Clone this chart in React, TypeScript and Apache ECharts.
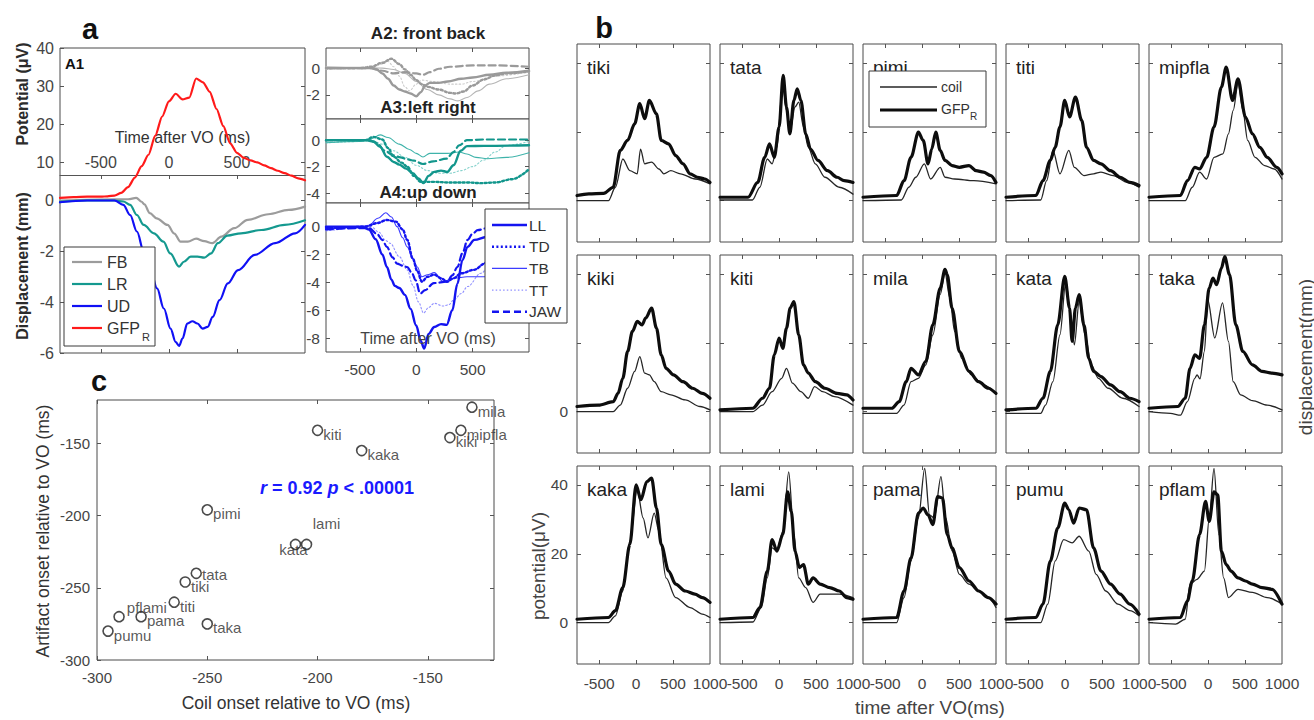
import React, { useEffect, useRef } from 'react';
import * as echarts from 'echarts';

type P = [number, number][];

// ---------------- Panel a : A1 (time ms, value) ----------------
const A1_TIME_TICKS = [-500, 0, 500];
const A1_POT_TICKS = [10, 20, 30, 40];
const A1_DISP_TICKS = [0, -2, -4, -6];
const A1_GFP: P = [[-800,0.7],[-700,0.9],[-600,1.0],[-500,1.0],[-450,1.1],[-400,1.3],[-350,2.0],[-300,3.5],[-250,6.0],[-200,9.0],[-150,12.0],[-100,17.0],[-50,22.0],[0,26.0],[50,28.0],[100,26.5],[150,27.0],[200,32.0],[250,31.0],[300,28.5],[350,24.0],[400,19.5],[450,15.0],[500,12.5],[550,11.2],[600,10.5],[650,10.0],[700,9.2],[750,8.5],[800,7.8],[850,7.2],[900,6.5],[950,5.8],[1000,5.3]];
const A1_FB: P = [[-800,0],[-400,0.05],[-300,0.05],[-240,0.1],[-200,-0.05],[-180,-0.15],[-140,-0.5],[-90,-0.7],[-10,-0.96],[40,-1.3],[85,-1.62],[140,-1.62],[200,-1.5],[260,-1.6],[320,-1.68],[385,-1.42],[480,-1.09],[580,-0.76],[730,-0.54],[880,-0.37],[1000,-0.24]];
const A1_LR: P = [[-800,-0.05],[-600,0],[-400,0],[-335,-0.04],[-285,-0.17],[-235,-0.57],[-185,-0.96],[-110,-1.29],[-40,-1.62],[10,-2.08],[75,-2.6],[110,-2.41],[160,-2.21],[210,-2.21],[260,-2.25],[310,-2.08],[360,-1.68],[430,-1.38],[530,-1.29],[680,-1.16],[850,-0.96],[1000,-0.78]];
const A1_UD: P = [[-800,-0.07],[-600,0],[-400,0],[-335,-0.17],[-285,-0.57],[-235,-1.22],[-185,-2.0],[-135,-2.74],[-87,-3.46],[-37,-4.25],[12,-5.04],[50,-5.57],[75,-5.72],[100,-5.43],[135,-4.84],[173,-4.75],[210,-4.84],[248,-5.04],[285,-4.97],[322,-4.58],[372,-3.92],[433,-3.26],[508,-2.74],[631,-2.14],[780,-1.68],[928,-1.29],[1000,-0.96]];

// ---------------- Panel a : A2 front back ----------------
const A2_TICKS = [0, -2];
const A2_LL: P = [[-800,0],[-400,0],[-350,-0.1],[-300,-0.4],[-250,-0.8],[-200,-1.3],[-150,-1.6],[-100,-1.75],[-50,-1.9],[0,-2.1],[40,-1.8],[80,-1.3],[120,-1.1],[200,-1.1],[280,-1.0],[400,-0.8],[500,-0.7],[650,-0.5],[800,-0.35],[1000,-0.2]];
const A2_TD: P = [[-800,0],[-500,0],[-400,0.1],[-300,0.4],[-220,0.7],[-150,0.3],[-100,-0.1],[-50,-0.5],[0,-0.9],[50,-1.2],[100,-1.4],[200,-1.6],[300,-1.85],[350,-1.9],[420,-1.75],[500,-1.3],[600,-0.85],[700,-0.55],[800,-0.4],[1000,-0.25]];
const A2_TB: P = [[-800,0.1],[-500,0.05],[-300,0],[-200,-0.1],[-100,-0.4],[0,-1.0],[100,-1.6],[200,-2.0],[300,-2.3],[370,-2.45],[450,-2.2],[550,-1.7],[650,-1.2],[800,-0.8],[1000,-0.5]];
const A2_TT: P = [[-800,-0.1],[-400,0],[-300,0.3],[-250,0.5],[-200,0.1],[-150,-0.6],[-100,-1.4],[-60,-1.7],[0,-1.2],[50,-0.9],[150,-1.0],[300,-1.2],[400,-1.2],[500,-1.0],[700,-0.6],[1000,-0.3]];
const A2_JAW: P = [[-800,0],[-400,0],[-300,-0.2],[-200,-0.4],[-100,-0.3],[0,-0.4],[60,-0.5],[120,-0.3],[200,-0.05],[300,0.1],[500,0.2],[700,0.2],[1000,0.1]];

// ---------------- Panel a : A3 left right ----------------
const A3_TICKS = [0, -2, -4];
const A3_LL: P = [[-800,0],[-450,0],[-380,-0.1],[-320,-0.5],[-260,-1.25],[-200,-1.65],[-150,-1.85],[-90,-2.15],[-30,-2.5],[20,-2.9],[65,-3.25],[110,-2.7],[160,-2.4],[220,-2.3],[275,-2.4],[330,-1.9],[395,-0.8],[450,-0.45],[600,-0.43],[1000,-0.38]];
const A3_TD: P = [[-800,0],[-450,0],[-380,0.25],[-300,0.05],[-250,-0.6],[-200,-1.25],[-130,-1.7],[-80,-2.0],[-20,-2.7],[40,-3.15],[150,-3.15],[300,-3.2],[450,-3.2],[575,-3.25],[700,-3.2],[850,-2.95],[1000,-2.2]];
const A3_TB: P = [[-800,-0.2],[-500,-0.1],[-400,0.1],[-320,0.4],[-250,0.2],[-150,-0.3],[-60,-0.7],[0,-1.0],[60,-1.27],[120,-1.0],[200,-1.0],[280,-1.0],[380,-0.9],[450,-1.05],[530,-1.3],[630,-1.4],[800,-1.3],[1000,-0.95]];
const A3_TT: P = [[-800,-0.2],[-500,-0.1],[-400,0],[-300,-0.3],[-200,-0.8],[-100,-1.3],[0,-1.9],[100,-2.3],[200,-2.5],[300,-2.5],[400,-2.3],[500,-2.0],[600,-1.5],[700,-0.9],[800,-0.4],[1000,-0.1]];
const A3_JAW: P = [[-800,0],[-420,0],[-350,-0.2],[-280,-0.8],[-200,-1.15],[-140,-1.3],[-80,-1.45],[-20,-1.55],[60,-1.8],[150,-1.6],[270,-1.4],[330,-0.9],[380,-0.4],[450,0],[600,0.05],[1000,0.05]];

// ---------------- Panel a : A4 up down ----------------
const A4_TICKS = [0, -2, -4, -6, -8];
const A4_LL: P = [[-800,0],[-480,0],[-420,-0.2],[-360,-0.9],[-300,-2.0],[-260,-2.9],[-220,-3.8],[-190,-4.25],[-150,-4.4],[-100,-4.9],[-50,-5.9],[0,-7.1],[40,-8.2],[70,-8.75],[110,-7.7],[160,-7.2],[220,-7.0],[270,-7.05],[320,-6.0],[365,-4.1],[410,-2.4],[455,-1.45],[515,-0.95],[630,-0.72],[750,-0.6],[1000,-0.48]];
const A4_TD: P = [[-800,-0.1],[-600,-0.05],[-450,0],[-350,0.25],[-260,0.48],[-180,0.36],[-120,-0.2],[-80,-0.95],[-30,-2.3],[10,-3.2],[50,-3.95],[100,-3.6],[160,-3.45],[220,-3.7],[275,-3.95],[330,-3.7],[400,-3.35],[510,-3.1],[620,-2.6],[750,-2.0],[1000,-1.3]];
const A4_TB: P = [[-800,-0.2],[-500,0],[-420,0.1],[-340,0.6],[-270,1.0],[-220,0.7],[-170,0],[-120,-0.8],[-80,-1.45],[-30,-2.3],[10,-2.9],[50,-3.6],[100,-3.45],[160,-3.3],[240,-3.95],[300,-3.8],[340,-3.7],[450,-3.6],[620,-3.6],[1000,-3.6]];
const A4_TT: P = [[-800,-0.3],[-500,-0.1],[-400,0],[-330,-0.4],[-270,-1.0],[-230,-1.2],[-150,-2.15],[-80,-3.1],[-30,-4.2],[20,-5.4],[65,-6.2],[110,-5.8],[160,-5.5],[240,-5.7],[290,-5.6],[335,-5.25],[400,-4.8],[455,-4.3],[575,-3.34],[700,-2.0],[850,-1.3],[1000,-0.9]];
const A4_JAW: P = [[-800,-0.2],[-500,-0.1],[-420,-0.1],[-350,-0.5],[-300,-0.95],[-260,-1.45],[-210,-2.2],[-170,-2.65],[-120,-2.8],[-80,-2.9],[-40,-3.3],[-5,-3.85],[35,-4.8],[80,-4.55],[155,-4.05],[275,-3.95],[320,-3.5],[365,-2.9],[410,-1.9],[455,-0.95],[500,-0.5],[545,-0.25],[620,-0.12],[1000,-0.1]];

// ---------------- Panel c ----------------
const C_WORDS = ['mila','mipfla','kiki','kiti','kaka','pimi','kata','lami','tata','tiki','titi','pflami','pama','pumu','taka'];
const C_COIL = [-130,-135,-140,-200,-180,-250,-210,-205,-255,-260,-265,-290,-280,-295,-250];
const C_ARTIFACT = [-125,-141,-146,-141,-155,-196,-220,-220,-240,-246,-260,-270,-270,-280,-275];
const C_TICKS = [-300, -250, -200, -150];

// ---------------- Panel b (time ms, µV) ----------------
const B_X_TICKS = [-500, 0, 500];
const B_X_LABELS = [-500, 0, 500, 1000];
const B_Y_TICKS = [0, 20, 40];
const tikiCoil: P = [[-800,0],[-375,0],[-280,3.9],[-180,12.1],[-85,8.7],[15,7.8],[60,15],[115,10.7],[210,11.2],[310,9.2],[375,7.8],[470,8.7],[600,7.8],[800,6.3],[1000,4.9]];
const tikiGfp: P = [[-800,1.5],[-640,2],[-440,2.1],[-310,3.9],[-215,14.6],[-115,17.5],[-20,22.3],[50,28.2],[115,23.8],[180,29.1],[275,25.2],[340,17.5],[440,16.5],[535,13.1],[635,10.7],[730,7.8],[830,6.8],[930,6.3],[1000,5.3]];
const tataCoil: P = [[-800,0.2],[-360,0.2],[-260,3.9],[-160,12.1],[-95,10.7],[-30,15.5],[50,34],[100,26.2],[150,20.4],[215,27.2],[265,28.6],[330,21.4],[395,15.5],[490,10.7],[620,6.8],[815,3.9],[1000,1.9]];
const tataGfp: P = [[-800,1],[-420,1],[-290,5.3],[-195,12.6],[-130,16.5],[-65,12.6],[0,21.4],[55,36.4],[100,27.2],[145,19.4],[200,29.1],[245,32.5],[295,29.1],[360,19.4],[425,15],[525,11.7],[655,8.7],[785,6.8],[880,5.8],[1000,5.3]];
const pimiCoil: P = [[-800,0],[-280,0.2],[-180,3.9],[-85,6.8],[30,10.7],[115,6.3],[245,9.7],[310,6.8],[440,6.3],[700,5.8],[1000,4.9]];
const pimiGfp: P = [[-800,1],[-345,1.5],[-245,5.8],[-150,12.6],[-50,19.9],[15,17.5],[80,10.7],[130,15],[185,19.9],[245,14.6],[310,11.7],[405,10.2],[505,9.7],[635,10.2],[730,8.7],[830,8.3],[930,7.3],[1000,5.3]];
const titiCoil: P = [[-800,0],[-330,0.2],[-250,5.8],[-165,14.6],[-70,7.8],[50,14.6],[125,9.7],[255,7.3],[385,7.8],[485,8.3],[650,7.3],[845,5.3],[1000,3.9]];
const titiGfp: P = [[-800,1],[-395,1.5],[-300,5.8],[-200,11.7],[-135,15.5],[-70,21.4],[-5,29.1],[60,24.3],[140,30.1],[225,23.3],[290,15.5],[385,11.7],[485,10.7],[615,8.7],[745,6.8],[875,5.3],[1000,4.4]];
const mipflaCoil: P = [[-800,0],[-310,0],[-215,3.9],[-115,8.3],[-20,6.3],[80,12.6],[200,13.6],[275,19.4],[340,26.2],[405,34],[470,26.2],[535,17.5],[635,12.6],[765,10.2],[895,9.2],[1000,6.3]];
const mipflaGfp: P = [[-800,1],[-375,1.5],[-280,5.8],[-180,9.7],[-115,9.2],[-20,12.6],[80,21.4],[180,33],[245,38.8],[330,29.1],[405,35.4],[505,24.3],[600,19.4],[700,15.5],[800,12.6],[930,9.7],[1000,7.8]];
const kikiCoil: P = [[-800,0],[-310,0],[-215,1.9],[-115,6.8],[-20,11.7],[50,16],[115,11.2],[180,10.7],[245,8.7],[340,5.8],[470,4.9],[665,3.4],[865,1.5],[1000,0.5]];
const kikiGfp: P = [[-800,1.5],[-510,1.9],[-310,2.9],[-245,5.3],[-180,9.7],[-115,17.5],[-50,23.3],[15,26.2],[80,25.2],[130,27.2],[210,30.1],[275,24.3],[340,16.5],[405,12.6],[505,10.7],[635,8.7],[765,6.8],[895,5.3],[1000,3.9]];
const kitiCoil: P = [[-800,0],[-355,0],[-225,1.9],[-95,5.8],[35,9.7],[100,12.6],[180,8.3],[295,5.8],[395,3.9],[480,7.3],[590,5.8],[750,4.4],[1000,1.9]];
const kitiGfp: P = [[-800,0.5],[-355,1],[-225,3.9],[-130,6.8],[-65,16.5],[0,21.4],[50,18.4],[100,24.3],[150,30.1],[200,32],[265,22.3],[330,13.6],[395,11.2],[490,8.7],[620,6.8],[785,5.3],[915,4.9],[1000,3.4]];
const milaCoil: P = [[-800,-0.5],[-345,-0.5],[-245,1.9],[-150,8.7],[-50,9.7],[50,13.6],[145,22.3],[245,34],[310,40.3],[375,33],[440,23.3],[535,15.5],[665,10.7],[830,7.8],[1000,5.3]];
const milaGfp: P = [[-800,1],[-410,1],[-310,2.9],[-215,8.7],[-150,12.6],[-50,10.7],[50,14.6],[145,25.2],[245,35.9],[310,41.3],[340,39.8],[405,30.1],[505,17.5],[635,11.7],[765,8.7],[895,6.8],[1000,5.3]];
const kataCoil: P = [[-800,-0.5],[-330,-0.5],[-265,1.9],[-165,8.7],[-70,22.3],[10,37.9],[75,28.2],[125,19.4],[190,32],[270,22.3],[355,13.6],[450,9.7],[585,6.8],[780,3.9],[1000,1.5]];
const kataGfp: P = [[-800,0.5],[-395,1],[-300,3.9],[-200,11.7],[-100,25.2],[-5,39.3],[60,30.1],[95,20.4],[140,30.1],[190,34],[255,25.2],[320,15.5],[385,11.7],[485,10.2],[615,7.8],[745,5.8],[875,3.9],[1000,2.9]];
const takaCoil: P = [[-800,0],[-510,-0.5],[-375,-1],[-280,2.9],[-180,9.7],[-150,10.7],[-110,9.5],[-50,17.5],[-5,32.5],[90,21.4],[195,31.6],[275,20.4],[340,8.7],[440,4.9],[600,3.2],[800,1.9],[1000,0.5]];
const takaGfp: P = [[-800,1],[-410,1.5],[-310,3.9],[-245,12.6],[-180,16.5],[-115,15.5],[-50,25.2],[15,35.9],[65,38.8],[115,36.9],[180,41.7],[225,45],[290,39.8],[375,25.2],[470,17.5],[600,13.6],[730,11.7],[865,11.2],[1000,10.7]];
const kakaCoil: P = [[-800,0],[-375,0],[-280,2],[-180,9.2],[-85,23.7],[15,38.6],[95,30.4],[160,24.6],[245,31.8],[310,26.5],[405,13],[535,7.3],[730,4.4],[895,2.5],[1000,1.5]];
const kakaGfp: P = [[-800,1],[-375,1.5],[-280,3.5],[-180,10.2],[-85,22.7],[0,40],[65,35.7],[145,41],[210,42],[275,33.3],[340,22.7],[440,15],[535,11.2],[665,9.2],[795,8.3],[895,7.3],[1000,5.9]];
const lamiCoil: P = [[-800,0],[-355,0.2],[-240,4.4],[-160,13],[-95,21.7],[-30,20.8],[50,26.5],[130,43.8],[200,25.6],[265,13],[360,10.2],[460,5.9],[555,8.3],[685,8.3],[815,8.3],[1000,7.3]];
const lamiGfp: P = [[-800,1],[-355,1.5],[-260,4.4],[-160,15],[-95,24.1],[-30,20.8],[50,25.6],[115,38],[165,32.3],[215,20.8],[275,16],[330,16.9],[395,11.2],[460,13],[555,11.2],[685,10.2],[815,9.2],[915,7.3],[1000,6.8]];
const pamaCoil: P = [[-800,0],[-345,0],[-245,7.3],[-150,17.9],[-50,30.4],[35,44.8],[100,31.3],[165,30.4],[255,42.4],[320,30.4],[405,20.8],[505,14],[635,11.2],[765,9.2],[895,7.3],[1000,4.4]];
const pamaGfp: P = [[-800,1],[-345,1.5],[-245,9.2],[-150,18.8],[-50,31.8],[15,33.3],[80,31.3],[145,28.5],[210,36.6],[275,36.2],[340,25.6],[405,21.7],[505,16],[635,12.1],[765,9.2],[895,7.3],[1000,5.4]];
const pumuCoil: P = [[-800,0],[-330,0],[-235,5.4],[-135,17.9],[-20,24.1],[95,23.2],[190,25.1],[320,20.8],[420,14],[550,9.2],[715,5.4],[875,3.5],[1000,2]];
const pumuGfp: P = [[-800,1],[-395,1.5],[-300,5.4],[-200,17.9],[-100,27.5],[-5,34.7],[50,32.8],[115,28.9],[190,33.3],[290,32.8],[385,21.7],[485,15],[615,11.2],[745,8.3],[875,5.4],[1000,2.5]];
const pflamCoil: P = [[-800,0],[-440,-0.4],[-310,1],[-245,11.2],[-150,12.6],[-50,15],[15,30.4],[80,44.8],[145,25.6],[210,13],[275,7.3],[405,9.7],[600,8.8],[800,7.3],[1000,5.4]];
const pflamGfp: P = [[-800,1],[-375,1.5],[-280,6.3],[-215,12.1],[-115,25.6],[-35,35.2],[15,29.4],[80,38],[130,37.1],[180,20.8],[245,16.9],[310,15],[405,13],[505,12.1],[600,11.2],[730,10.2],[865,9.7],[1000,5.4]];

const B_WORDS = ['tiki','tata','pimi','titi','mipfla','kiki','kiti','mila','kata','taka','kaka','lami','pama','pumu','pflam'];
const B_COIL: P[] = [tikiCoil,tataCoil,pimiCoil,titiCoil,mipflaCoil,kikiCoil,kitiCoil,milaCoil,kataCoil,takaCoil,kakaCoil,lamiCoil,pamaCoil,pumuCoil,pflamCoil];
const B_GFP: P[] = [tikiGfp,tataGfp,pimiGfp,titiGfp,mipflaGfp,kikiGfp,kitiGfp,milaGfp,kataGfp,takaGfp,kakaGfp,lamiGfp,pamaGfp,pumuGfp,pflamGfp];

// ---------------- styling ----------------
const FONT = "'Liberation Sans', Arial, Helvetica, sans-serif";
const INK = '#2b2b2b';
const AXC = '#444';
const GRAY = { thick: '#9a9a9a', thin: '#b5b5b5', light: '#cdcdcd' };
const TEAL = { thick: '#12968c', thin: '#3fb3aa', light: '#86d2cc' };
const BLUE = { thick: '#1414f0', thin: '#3c3cff', light: '#9090ff' };

// label placement for panel c (style only)
const C_LABEL_POS: Record<string, any> = {
  lami: { position: 'top', offset: [20, -6] },
  kata: { position: 'bottom', offset: [-2, -10] },
  pflami: { position: 'right', offset: [0, -9] },
  tata: { position: 'right', offset: [-2, 1] },
};

function buildOption() {
  const grid: any[] = [];
  const xAxis: any[] = [];
  const yAxis: any[] = [];
  const series: any[] = [];
  const graphic: any[] = [];

  const addGrid = (left: number, top: number, width: number, height: number) => {
    grid.push({ left, top, width, height, show: true, borderColor: '#4a4a4a', borderWidth: 1, backgroundColor: '#fff', containLabel: false, outerBoundsMode: 'none' });
    return grid.length - 1;
  };
  const tick = (vals: number[], len = 4) => ({ show: true, inside: true, length: len, customValues: vals, lineStyle: { color: '#555', width: 1 } });
  const lab = (vals: number[] | null, extra: any = {}) =>
    vals ? { show: true, customValues: vals, color: AXC, fontSize: 15, fontFamily: FONT, formatter: (v: number) => String(v), ...extra } : { show: false };
  const addAxis = (arr: any[], gi: number, min: number, max: number, position: string, ticks: number[], labels: number[] | null, labelExtra: any = {}, extra: any = {}) => {
    arr.push({
      type: 'value', gridIndex: gi, min, max, position,
      axisLine: { show: false, onZero: false },
      splitLine: { show: false },
      axisTick: tick(ticks),
      axisLabel: lab(labels, labelExtra),
      ...extra,
    });
    return arr.length - 1;
  };
  const addLine = (xi: number, yi: number, data: P, color: string, width: number, type: any = 'solid', smooth = 0.35) => {
    series.push({
      type: 'line', xAxisIndex: xi, yAxisIndex: yi, data, symbol: 'none', showSymbol: false,
      smooth, smoothMonotone: 'x', silent: true,
      lineStyle: { color, width, type, cap: 'round', join: 'round' },
    });
  };
  const txt = (x: number, y: number, text: string, o: any = {}) => {
    const align = o.align || 'center';
    const va = o.va || 'middle';
    graphic.push({
      type: 'text', x, y, rotation: o.rotation || 0, z: o.z ?? 50,
      style: {
        text, fontSize: o.fontSize || 15, fontFamily: FONT, fontWeight: o.bold ? 'bold' : 'normal',
        fontStyle: o.italic ? 'italic' : 'normal',
        fill: o.fill || INK, align, verticalAlign: va, textAlign: align, textVerticalAlign: va,
        rich: o.rich,
      },
    });
  };
  const rect = (x: number, y: number, w: number, h: number) =>
    graphic.push({ type: 'rect', z: 100, shape: { x, y, width: w, height: h }, style: { fill: '#fff', stroke: '#3a3a3a', lineWidth: 1 } });
  const seg = (x1: number, y1: number, x2: number, y2: number, stroke: string, lineWidth: number, lineDash: any = null) =>
    graphic.push({ type: 'line', z: 101, shape: { x1, y1, x2, y2 }, style: { stroke, lineWidth, lineDash } });

  // ===== A1 =====
  const g0 = addGrid(60, 48, 245, 305);
  const x0 = addAxis(xAxis, g0, -800, 1000, 'bottom', A1_TIME_TICKS, null);
  xAxis.push({
    type: 'value', gridIndex: g0, min: -800, max: 1000, position: 'top', offset: -127,
    axisLine: { show: true, onZero: false, lineStyle: { color: '#555', width: 1 } },
    splitLine: { show: false },
    axisTick: tick(A1_TIME_TICKS),
    axisLabel: lab(A1_TIME_TICKS, { fontSize: 16, margin: 5 }),
    name: 'Time after VO (ms)', nameLocation: 'middle', nameGap: 30,
    nameTextStyle: { color: '#333', fontSize: 16, fontFamily: FONT },
  });
  const yPot = addAxis(yAxis, g0, -40, 40, 'left', A1_POT_TICKS, A1_POT_TICKS, { fontSize: 16, margin: 6 });
  const yDisp = addAxis(yAxis, g0, -6, 6, 'left', A1_DISP_TICKS, A1_DISP_TICKS, { fontSize: 16, margin: 6 });
  addAxis(yAxis, g0, -40, 40, 'right', [10, 20, 30], null);
  addAxis(yAxis, g0, -6, 6, 'right', [0, -2, -4], null);
  addLine(x0, yDisp, A1_FB, '#9c9c9c', 2.2);
  addLine(x0, yDisp, A1_LR, '#14998f', 2.2);
  addLine(x0, yDisp, A1_UD, '#1010f5', 2.2);
  addLine(x0, yPot, A1_GFP, '#ff1a1a', 2.2, 'solid', 0.25);

  // ===== A2 - A4 =====
  const subPanels = [
    { top: 48, h: 71, min: -3.8, max: 1.5, ticks: A2_TICKS, c: GRAY, d: [A2_LL, A2_TD, A2_TB, A2_TT, A2_JAW], labels: false },
    { top: 119, h: 84, min: -4.75, max: 1.6, ticks: A3_TICKS, c: TEAL, d: [A3_LL, A3_TD, A3_TB, A3_TT, A3_JAW], labels: false },
    { top: 203, h: 149, min: -9, max: 1.7, ticks: A4_TICKS, c: BLUE, d: [A4_LL, A4_TD, A4_TB, A4_TT, A4_JAW], labels: true },
  ];
  subPanels.forEach((sp) => {
    const gi = addGrid(326, sp.top, 203, sp.h);
    const xi = addAxis(xAxis, gi, -800, 1000, 'bottom', A1_TIME_TICKS, sp.labels ? A1_TIME_TICKS : null, { margin: 9, fontSize: 15.5 });
    addAxis(xAxis, gi, -800, 1000, 'top', A1_TIME_TICKS, null);
    const yi = addAxis(yAxis, gi, sp.min, sp.max, 'left', sp.ticks, sp.ticks, { margin: 6, fontSize: 15.5 });
    addAxis(yAxis, gi, sp.min, sp.max, 'right', sp.ticks, null);
    const [LL, TD, TB, TT, JAW] = sp.d;
    addLine(xi, yi, TT, sp.c.light, 1.1, [1.5, 2.2]);
    addLine(xi, yi, TB, sp.c.thin, 1.1);
    addLine(xi, yi, JAW, sp.c.thick, 2.2, [7, 4]);
    addLine(xi, yi, TD, sp.c.thick, 2.4, [2, 2.4]);
    addLine(xi, yi, LL, sp.c.thick, 2.4);
  });

  // ===== Panel c =====
  const gc = addGrid(97, 400, 397, 260);
  const xc = addAxis(xAxis, gc, -300, -120, 'bottom', C_TICKS, C_TICKS, { margin: 10 });
  addAxis(xAxis, gc, -300, -120, 'top', C_TICKS, null);
  const yc = addAxis(yAxis, gc, -300, -120, 'left', C_TICKS, C_TICKS, { margin: 7 });
  addAxis(yAxis, gc, -300, -120, 'right', C_TICKS, null);
  series.push({
    type: 'scatter', xAxisIndex: xc, yAxisIndex: yc, symbol: 'circle', symbolSize: 10, silent: true,
    itemStyle: { color: 'rgba(0,0,0,0)', borderColor: '#1e1e1e', borderWidth: 1.6 },
    data: C_WORDS.map((w, i) => {
      const lp = C_LABEL_POS[w] || { position: 'right', offset: [-2, 4] };
      return {
        name: w, value: [C_COIL[i], C_ARTIFACT[i]],
        label: { show: true, formatter: '{b}', position: lp.position, offset: lp.offset, distance: 2, color: '#2e2e2e', fontSize: 15, fontFamily: FONT },
      };
    }),
  });

  // ===== Panel b =====
  const B_TOPS = [44, 255, 466];
  for (let k = 0; k < 15; k++) {
    const r = Math.floor(k / 5);
    const c = k % 5;
    const left = 577 + c * 143;
    const top = B_TOPS[r];
    const gi = addGrid(left, top, 133, 198);
    const xi = addAxis(xAxis, gi, -800, 1000, 'bottom', B_X_TICKS, r === 2 ? B_X_LABELS : null, { margin: 11, fontSize: 15.5 });
    addAxis(xAxis, gi, -800, 1000, 'top', B_X_TICKS, null);
    const yLabels = c === 0 && r === 2 ? B_Y_TICKS : c === 0 && r === 1 ? [0] : null;
    const yi = addAxis(yAxis, gi, -12, 45.5, 'left', B_Y_TICKS, yLabels, { margin: 9, fontSize: 15.5 });
    addAxis(yAxis, gi, -12, 45.5, 'right', B_Y_TICKS, null);
    addLine(xi, yi, B_COIL[k], '#262626', 1.3, 'solid', 0.3);
    addLine(xi, yi, B_GFP[k], '#0d0d0d', 3.2, 'solid', 0.3);
    txt(left + 10, top + 23, B_WORDS[k], { fontSize: 19, align: 'left', fill: '#222', z: 40 });
  }

  // ===== texts =====
  txt(90, 29, 'a', { fontSize: 29, bold: true, fill: '#111' });
  txt(604, 28, 'b', { fontSize: 29, bold: true, fill: '#111' });
  txt(99, 381, 'c', { fontSize: 29, bold: true, fill: '#111' });
  txt(65, 63, 'A1', { fontSize: 15, bold: true, align: 'left', fill: '#111' });
  txt(22, 94, 'Potential (μV)', { fontSize: 16, bold: true, rotation: Math.PI / 2 });
  txt(22, 266, 'Displacement (mm)', { fontSize: 16, bold: true, rotation: Math.PI / 2 });
  txt(428, 33, 'A2: front back', { fontSize: 17, bold: true, fill: '#222' });
  txt(428, 107, 'A3:left right', { fontSize: 17, bold: true, fill: '#222' });
  txt(428, 192, 'A4:up down', { fontSize: 17, bold: true, fill: '#222' });
  txt(428, 338, 'Time after VO (ms)', { fontSize: 16, fill: '#444' });

  // A1 legend
  rect(64, 247, 91, 99);
  const a1Leg = [['FB', '#9c9c9c'], ['LR', '#14998f'], ['UD', '#1010f5'], ['GFP', '#ff1a1a']];
  a1Leg.forEach(([name, col], i) => {
    const y = 262 + i * 22;
    seg(72, y, 102, y, col, 2.2);
    txt(107, y, name, { fontSize: 16, align: 'left', z: 102, fill: '#333' });
  });
  txt(142, 337, 'R', { fontSize: 11, align: 'left', z: 102, fill: '#333' });

  // A4 legend
  rect(485, 209, 82, 114);
  const a4Leg: [string, string, number, any][] = [
    ['LL', BLUE.thick, 2.4, null], ['TD', BLUE.thick, 2.4, [2, 2.4]], ['TB', BLUE.thin, 1.1, null],
    ['TT', BLUE.light, 1.1, [1.5, 2.2]], ['JAW', BLUE.thick, 2.4, [7, 4]],
  ];
  a4Leg.forEach(([name, col, w, dash], i) => {
    const y = 225 + i * 21.7;
    seg(492, y, 527, y, col, w, dash);
    txt(529, y, name, { fontSize: 15.5, align: 'left', z: 102, fill: '#333' });
  });

  // panel c texts
  txt(337, 488, '{i|r}{b| = 0.92 }{i|p}{b| < .00001}', {
    fontSize: 18, bold: true, fill: '#1a1aff',
    rich: {
      i: { fontStyle: 'italic', fontWeight: 'bold', fontSize: 18, fill: '#1a1aff', color: '#1a1aff', fontFamily: FONT },
      b: { fontWeight: 'bold', fontSize: 18, fill: '#1a1aff', color: '#1a1aff', fontFamily: FONT },
    },
  });
  txt(43, 531, 'Artifact onset relative to VO (ms)', { fontSize: 17.5, rotation: Math.PI / 2, fill: '#333' });
  txt(296, 703, 'Coil onset relative to VO (ms)', { fontSize: 17.5, fill: '#333' });

  // panel b legend & titles
  rect(869, 71, 117, 56);
  seg(880, 87, 937, 87, '#262626', 1.3);
  seg(880, 110, 937, 110, '#0d0d0d', 3.2);
  txt(941, 87, 'coil', { fontSize: 14, align: 'left', z: 102, fill: '#333' });
  txt(941, 109, 'GFP', { fontSize: 14, align: 'left', z: 102, fill: '#333' });
  txt(970, 116, 'R', { fontSize: 10, align: 'left', z: 102, fill: '#333' });
  txt(538, 566, 'potential(μV)', { fontSize: 19, rotation: Math.PI / 2, fill: '#444' });
  txt(1305, 357, 'displacement(mm)', { fontSize: 19, rotation: Math.PI / 2, fill: '#444' });
  txt(930, 707, 'time after VO(ms)', { fontSize: 19, fill: '#444' });

  return {
    animation: false,
    backgroundColor: '#ffffff',
    textStyle: { fontFamily: FONT },
    grid, xAxis, yAxis, series, graphic,
  };
}

export default function App() {
  const ref = useRef<HTMLDivElement>(null);
  useEffect(() => {
    const el = ref.current;
    if (!el) return;
    const chart = echarts.init(el, undefined, { renderer: 'svg', width: 1314, height: 720 });
    chart.setOption(buildOption() as any);
    return () => chart.dispose();
  }, []);
  return (
    <div
      ref={ref}
      style={{ position: 'fixed', left: 0, top: 0, width: 1314, height: 720, background: '#fff' }}
    />
  );
}
